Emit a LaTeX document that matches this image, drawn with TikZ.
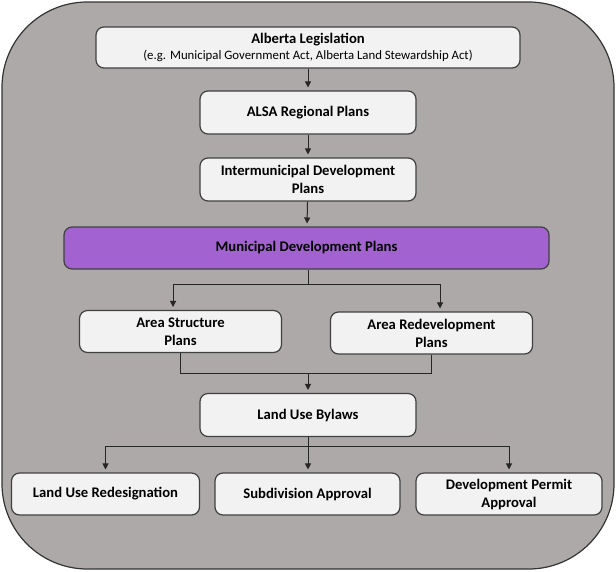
\documentclass[tikz,border=0pt]{standalone}
\usepackage{fontspec}
\setmainfont{Carlito}
\usepackage{xcolor}
\usetikzlibrary{arrows.meta}
\tikzset{
  flowline/.style={draw=black!85, line width=0.75pt},
  flowarrow/.style={flowline, -{Triangle[length=4.5pt,width=4.5pt]}, shorten >=2.2pt},
  planbox/.style={draw=black!75, line width=0.9pt, fill=PlanGray, rounded corners=6pt,
    align=center, inner sep=2pt, font=\fontsize{11}{13.5}\selectfont\bfseries}
}
\definecolor{FrameGray}{HTML}{ADA9A8}
\definecolor{PlanGray}{HTML}{F2F2F2}
\definecolor{PlanPurple}{HTML}{A263D0}

\begin{document}
\begin{tikzpicture}[x=0.75pt, y=-0.75pt]
\useasboundingbox (0,0) rectangle (616,571);
\path[draw=black!80, line width=0.9pt, fill=FrameGray, rounded corners=64pt] (2,2) rectangle (614,569);

\node[planbox, minimum width=318pt, minimum height=30.75pt] at (308,47.5) (legis)
  {Alberta Legislation\\[-1pt]{\fontsize{9.6}{11}\selectfont\mdseries (e.g. Municipal Government Act, Alberta Land Stewardship Act)}};
\node[planbox, minimum width=162pt, minimum height=32.25pt] at (308,112.5) (alsa) {ALSA Regional Plans};
\node[planbox, minimum width=162pt, minimum height=32.25pt] at (308,179.5) (imdp) {Intermunicipal Development\\Plans};
\node[planbox, fill=PlanPurple, minimum width=363.75pt, minimum height=31.5pt] at (306.5,248) (mdp) {Municipal Development Plans};

\node[planbox, minimum width=151.5pt, minimum height=31.5pt] at (180.5,331.5) (asp) {Area Structure\\Plans};
\node[planbox, minimum width=151.5pt, minimum height=31.5pt] at (431.5,333) (arp) {Area Redevelopment\\Plans};
\node[planbox, minimum width=162pt, minimum height=32.25pt] at (308,415) (lub) {Land Use Bylaws};

\node[planbox, minimum width=141pt, minimum height=31.5pt] at (105.5,494) (lur) {Land Use Redesignation};
\node[planbox, minimum width=138.75pt, minimum height=31.5pt] at (307.5,494) (subd) {Subdivision Approval};
\node[planbox, minimum width=139.5pt, minimum height=31.5pt] at (509,494) (dpa) {Development Permit\\Approval};

% hierarchy
\draw[flowarrow] (legis) -- (alsa);
\draw[flowarrow] (alsa) -- (imdp);
\draw[flowarrow] (imdp) -- (mdp);

\coordinate (split1) at (308,284);
\draw[flowline] (mdp.south -| split1) -- (split1);
\draw[flowarrow] (split1) -| ([xshift=-5.6pt]asp.north);
\draw[flowarrow] (split1) -| ([xshift=6.4pt]arp.north);

\coordinate (merge) at (308,373);
\draw[flowline] (asp.south) |- (merge);
\draw[flowline] (arp.south) |- (merge);
\draw[flowarrow] (merge) -- (lub.north);

\coordinate (split2) at (308,446);
\draw[flowline] (lub.south) -- (split2);
\draw[flowarrow] (split2) -| (lur.north);
\draw[flowarrow] (split2) -- (subd.north -| split2);
\draw[flowarrow] (split2) -| (dpa.north);
\end{tikzpicture}
\end{document}
